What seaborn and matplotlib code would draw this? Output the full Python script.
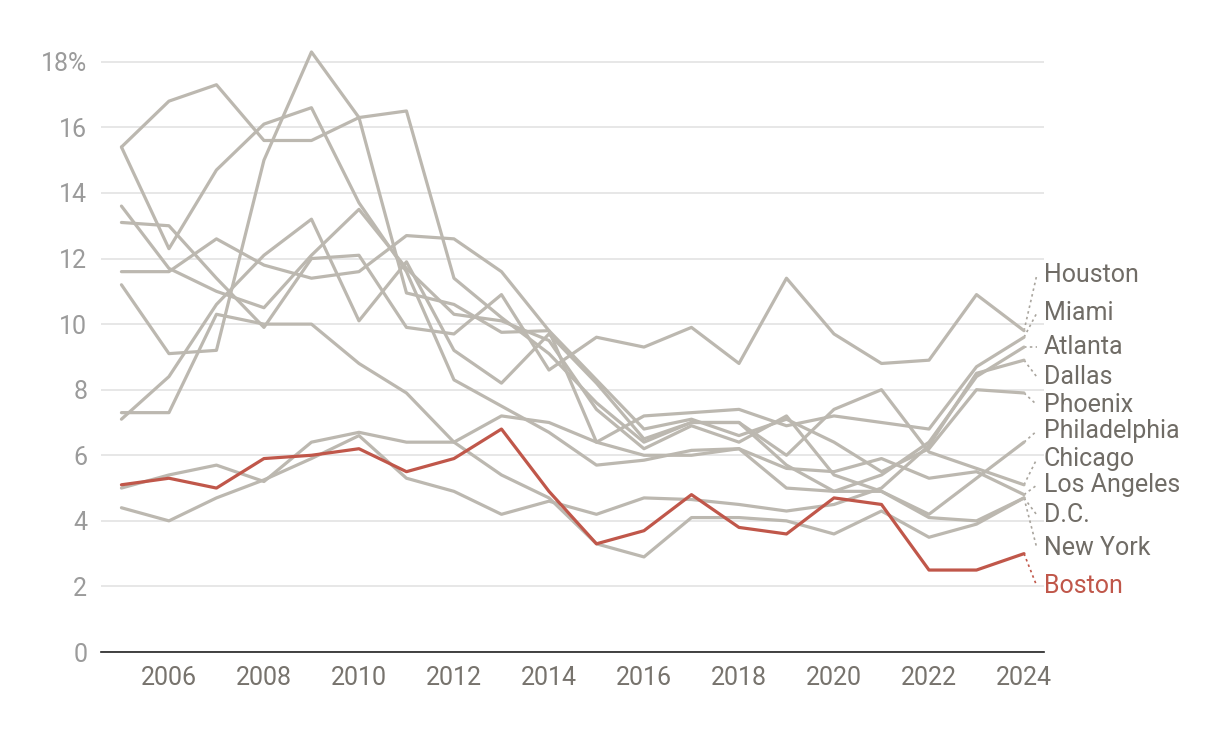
import matplotlib
matplotlib.use("Agg")
import matplotlib.pyplot as plt
import pandas as pd
import seaborn as sns

years = list(range(2005, 2025))

houston = [13.1, 13.0, 11.4, 9.9, 12.0, 12.1, 9.9, 9.7, 10.9, 8.6, 9.6, 9.3, 9.9, 8.8, 11.4, 9.7, 8.8, 8.9, 10.9, 9.8]
miami = [5.0, 5.4, 5.7, 5.2, 6.4, 6.7, 6.4, 6.4, 7.2, 7.0, 6.4, 7.2, 7.3, 7.4, 6.9, 7.2, 7.0, 6.8, 8.7, 9.6]
atlanta = [7.1, 8.4, 10.6, 12.1, 13.2, 10.1, 11.9, 9.2, 8.2, 9.7, 8.2, 6.5, 7.0, 7.0, 5.7, 4.9, 5.4, 6.4, 8.4, 9.3]
dallas = [4.4, 4.0, 4.7, 5.25, 5.9, 6.6, 5.3, 4.9, 4.2, 4.6, 4.2, 4.7, 4.65, 4.5, 4.3, 4.5, 5.0, 6.3, 8.5, 8.9]
phoenix = [11.6, 11.6, 12.6, 11.8, 11.4, 11.6, 12.7, 12.6, 11.6, 9.8, 8.3, 6.8, 7.1, 6.6, 7.1, 6.4, 5.5, 6.2, 8.0, 7.9]
philadelphia = [13.6, 11.7, 11.0, 10.5, 12.1, 13.5, 11.7, 10.3, 10.1, 9.5, 7.4, 6.2, 6.9, 6.4, 7.2, 5.4, 4.9, 4.2, 5.3, 6.4]
chicago = [15.4, 16.8, 17.3, 15.6, 15.6, 16.3, 16.5, 11.4, 10.2, 9.1, 7.6, 6.4, 7.0, 7.0, 6.0, 7.4, 8.0, 6.1, 5.6, 5.1]
los_angeles = [11.2, 9.1, 9.2, 15.0, 18.3, 16.3, 10.95, 10.6, 9.75, 9.8, 6.4, 6.0, 6.0, 6.2, 5.6, 5.5, 5.9, 5.3, 5.5, 4.8]
dc = [15.4, 12.3, 14.7, 16.1, 16.6, 13.7, 11.6, 8.3, 7.5, 6.7, 5.7, 5.85, 6.15, 6.2, 5.0, 4.9, 4.9, 4.1, 4.0, 4.7]
new_york = [7.3, 7.3, 10.3, 10.0, 10.0, 8.8, 7.9, 6.4, 5.4, 4.7, 3.3, 2.9, 4.1, 4.1, 4.0, 3.6, 4.3, 3.5, 3.9, 4.7]
boston = [5.1, 5.3, 5.0, 5.9, 6.0, 6.2, 5.5, 5.9, 6.8, 4.9, 3.3, 3.7, 4.8, 3.8, 3.6, 4.7, 4.5, 2.5, 2.5, 3.0]

series = {
    "Houston": houston, "Miami": miami, "Atlanta": atlanta, "Dallas": dallas,
    "Phoenix": phoenix, "Philadelphia": philadelphia, "Chicago": chicago,
    "Los Angeles": los_angeles, "D.C.": dc, "New York": new_york, "Boston": boston,
}
# where the end labels sit (y in data units)
label_y = {
    "Houston": 11.5, "Miami": 10.34, "Atlanta": 9.3, "Dallas": 8.39, "Phoenix": 7.54,
    "Philadelphia": 6.74, "Chicago": 5.89, "Los Angeles": 5.09, "D.C.": 4.18,
    "New York": 3.17, "Boston": 2.01,
}

gray = "#bcb8b0"
red = "#c0574a"

rows = []
for city, vals in series.items():
    for yr, v in zip(years, vals):
        rows.append({"city": city, "year": yr, "value": v})
df = pd.DataFrame(rows)

sns.set_theme(style="white")
plt.rcParams["font.family"] = ["Liberation Sans Narrow", "Roboto", "DejaVu Sans"]

fig = plt.figure(figsize=(12.2, 7.38), dpi=100)
ax = fig.add_axes([0.0828, 0.1165, 0.7729, 0.8442])

others = df[df.city != "Boston"]
sns.lineplot(data=others, x="year", y="value", hue="city",
             palette={c: gray for c in others.city.unique()},
             linewidth=2.3, legend=False, ax=ax, zorder=3)
sns.lineplot(data=df[df.city == "Boston"], x="year", y="value", color=red,
             linewidth=2.3, legend=False, ax=ax, zorder=4)

# leader lines and labels
for city, vals in series.items():
    col = red if city == "Boston" else "#a9a59e"
    ax.plot([2024, 2024.27], [vals[-1], label_y[city]], ls=(0, (1.5, 2)),
            color=col, lw=1.2, clip_on=False, zorder=2)
    ax.text(2024.42, label_y[city], city, va="center", ha="left", fontsize=18,
            color=red if city == "Boston" else "#706c66", clip_on=False)

ax.set_xlim(2004.57, 2024.42)
ax.set_ylim(0, 19)
ax.set_yticks(range(0, 19, 2))
ax.set_yticklabels([str(v) if v < 18 else "18%" for v in range(0, 19, 2)])
ax.set_xticks(range(2006, 2025, 2))
ax.grid(axis="y", color="#e3e3e3", linewidth=1.2, zorder=0)
ax.grid(axis="x", visible=False)
ax.tick_params(axis="y", length=0, pad=10, labelsize=18, labelcolor="#9b9b9b")
ax.tick_params(axis="x", length=0, pad=10, labelsize=18, labelcolor="#77736d")
for s in ["top", "right", "left"]:
    ax.spines[s].set_visible(False)
ax.spines["bottom"].set_color("#222222")
ax.spines["bottom"].set_linewidth(1.2)
ax.set_xlabel("")
ax.set_ylabel("")

fig.savefig("out.png", dpi=100)
